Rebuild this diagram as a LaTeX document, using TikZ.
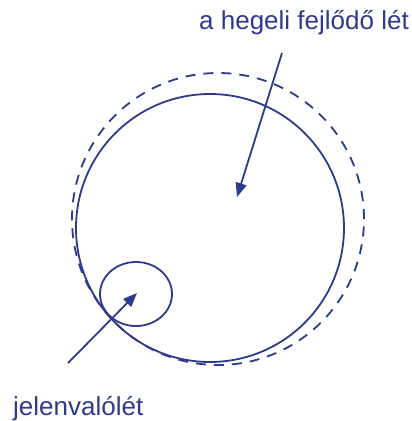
\documentclass[tikz,border=0pt]{standalone}
\usepackage{fontspec}
\setmainfont{Liberation Sans}
\usetikzlibrary{arrows.meta,shapes.geometric}
\definecolor{ink}{RGB}{46,58,140}
\begin{document}
\begin{tikzpicture}[x=1pt,y=-1pt,
  ring/.style={draw=ink,line width=1.8pt,circle,inner sep=0pt},
  dashring/.style={draw=ink,line width=1.8pt,circle,inner sep=0pt,dash pattern=on 10pt off 8pt},
  pointer/.style={draw=ink,line width=1.8pt,-{Triangle[length=14pt,width=11pt]}},
  lbl/.style={text=ink,inner sep=0pt,anchor=base west,font=\fontsize{26}{31}\selectfont}]
\useasboundingbox (0,0) rectangle (412,421);
\node[dashring,minimum size=292pt] (outer) at (218,219) {};
\node[ring,minimum size=268pt] (big) at (210,228) {};
\node[draw=ink,line width=1.8pt,ellipse,inner sep=0pt,minimum width=72pt,minimum height=64pt] (small) at (136,294) {};
\node[lbl] (t1) at (199,29) {a hegeli fejlődő lét};
\node[lbl] (t2) at (13,415) {jelenvalólét};
\coordinate (s1) at (282,53);
\coordinate (e1) at (237,197);
\coordinate (s2) at (68,363);
\coordinate (e2) at (137,293);
\draw[pointer] (s1) -- (e1);
\draw[pointer] (s2) -- (e2);
\end{tikzpicture}
\end{document}
